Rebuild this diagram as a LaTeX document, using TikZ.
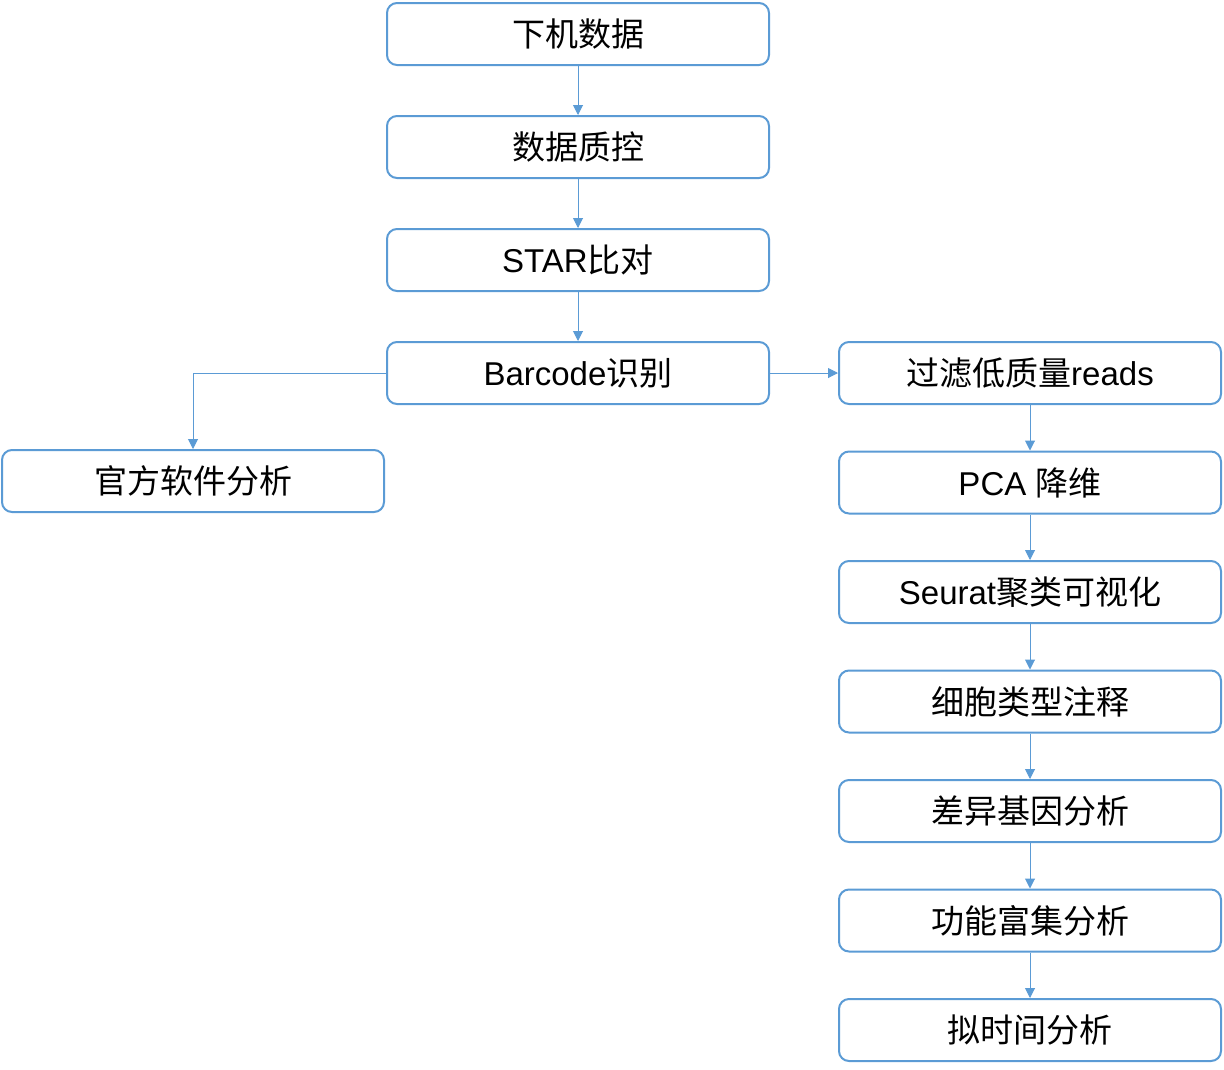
\documentclass[tikz,border=0pt]{standalone}
\usepackage{fontspec}
\setmainfont{Liberation Sans}
\newfontfamily\cjk{Noto Sans CJK SC}
\usetikzlibrary{arrows.meta, positioning}
\definecolor{flowblue}{RGB}{91, 155, 213}
\tikzset{
  box/.style={draw=flowblue, line width=2pt, rounded corners=10pt, fill=white,
    minimum width=382pt, minimum height=62pt, align=center, inner sep=0pt,
    font=\fontsize{33}{39}\selectfont},
  arr/.style={-{Triangle[length=10pt, width=10pt]}, line width=1pt, flowblue}
}
\begin{document}
\begin{tikzpicture}[x=1pt, y=1pt]
\useasboundingbox (0,0) rectangle (1224,-1069);
% main column
\node[box] (raw) at (578,-34) {\cjk 下机数据};
\node[box, below=49pt of raw] (qc) {\cjk 数据质控};
\node[box, below=49pt of qc] (star) {STAR{\cjk 比对}};
\node[box, below=49pt of star] (bc) {Barcode{\cjk 识别}};
% left branch
\node[box] (soft) at (193,-481) {\cjk 官方软件分析};
% right column
\node[box, right=68pt of bc] (filt) {{\cjk 过滤低质量}reads};
\node[box, below=45.5pt of filt] (pca) {PCA {\cjk 降维}};
\node[box, below=45.5pt of pca] (seu) {Seurat{\cjk 聚类可视化}};
\node[box, below=45.5pt of seu] (anno) {\cjk 细胞类型注释};
\node[box, below=45.5pt of anno] (deg) {\cjk 差异基因分析};
\node[box, below=45.5pt of deg] (enr) {\cjk 功能富集分析};
\node[box, below=45.5pt of enr] (traj) {\cjk 拟时间分析};
\draw[arr] (raw) -- (qc);
\draw[arr] (qc) -- (star);
\draw[arr] (star) -- (bc);
\draw[arr] (bc.west) -| (soft.north);
\draw[arr] (bc) -- (filt);
\draw[arr] (filt) -- (pca);
\draw[arr] (pca) -- (seu);
\draw[arr] (seu) -- (anno);
\draw[arr] (anno) -- (deg);
\draw[arr] (deg) -- (enr);
\draw[arr] (enr) -- (traj);
\end{tikzpicture}
\end{document}
